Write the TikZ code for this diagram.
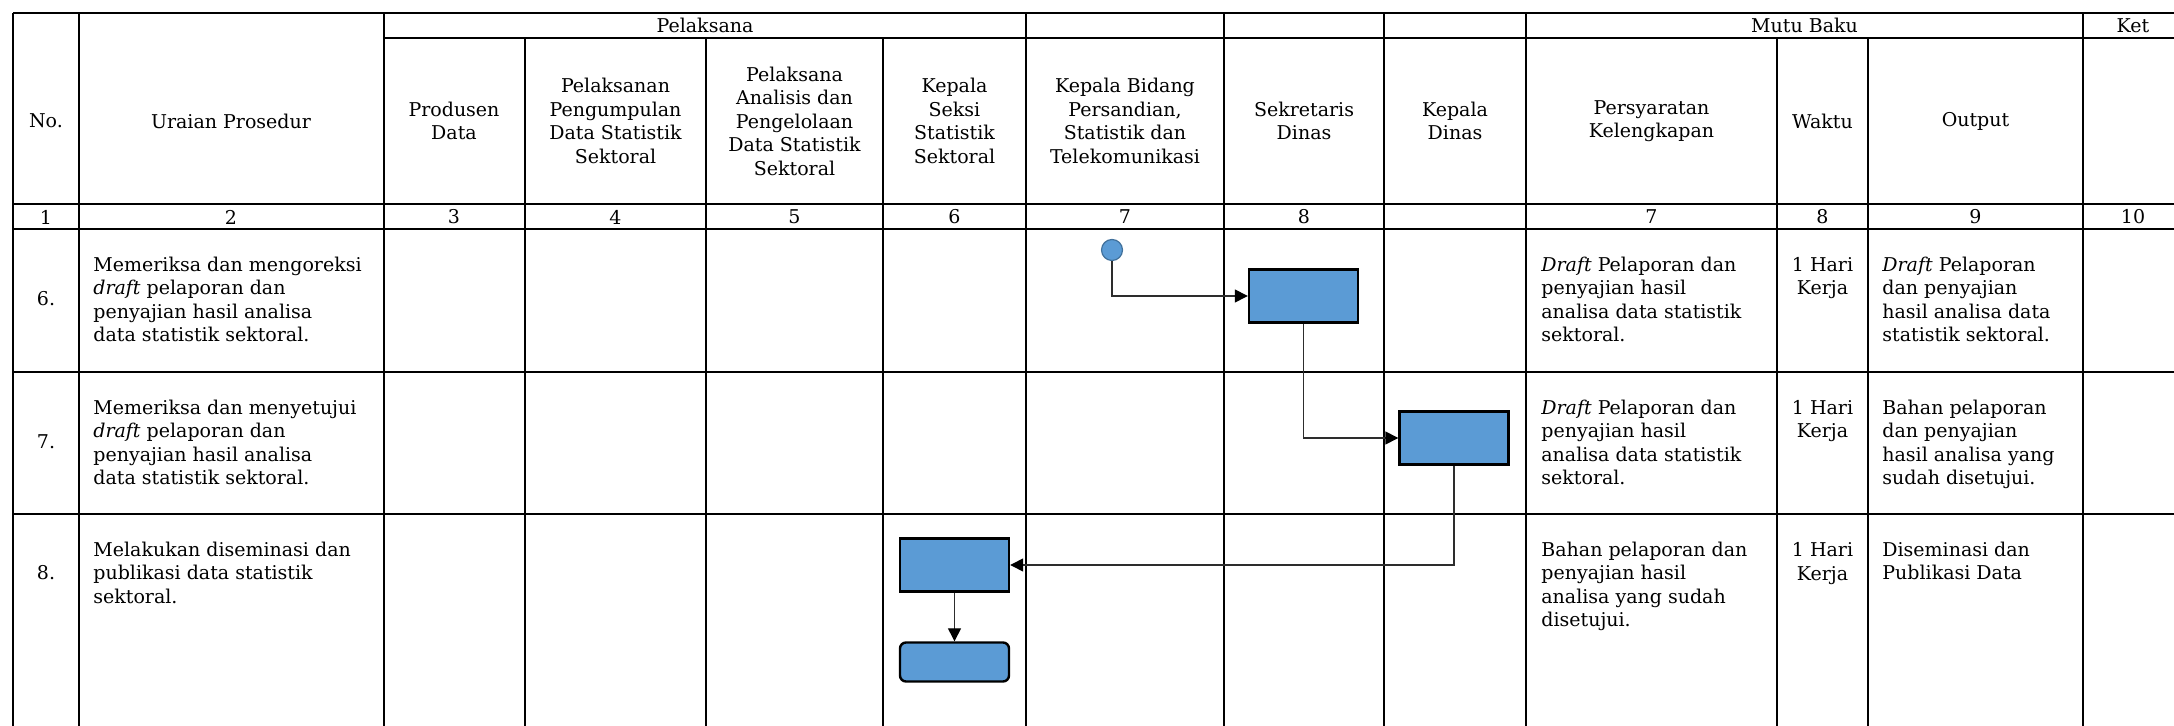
\documentclass[tikz,border=0pt]{standalone}
\usepackage{fontspec}
\setmainfont{DejaVu Serif}
\usetikzlibrary{arrows.meta}
\definecolor{boxblue}{RGB}{91,155,213}
\definecolor{rimblue}{RGB}{65,113,156}
\definecolor{linegrey}{RGB}{45,45,45}

\begin{document}
\begin{tikzpicture}[x=0.5pt,y=-0.5pt,
	grid/.style={line width=0.7pt},
	rule/.style={line width=1.1pt},
	cell/.style={inner sep=0pt,font=\fontsize{9.5}{11.75}\selectfont},
	hd/.style={cell,align=center},
	txt/.style={cell,align=left,anchor=north west},
	wkt/.style={cell,align=center,anchor=north},
	num/.style={cell,anchor=base},
	proc/.style={draw=black,line width=1.2pt,fill=boxblue,minimum width=54.5pt,minimum height=26.5pt,inner sep=0pt},
	startdot/.style={circle,draw=rimblue,line width=0.6pt,fill=boxblue,minimum size=10.5pt,inner sep=0pt},
	flow/.style={draw=linegrey,line width=0.7pt,-{Triangle[length=6.5pt,width=6.5pt,color=black]}}]
	\useasboundingbox (0,0) rectangle (2174,726);
	
	\draw[grid] (13,13) -- (13,726);
	\draw[grid] (79,13) -- (79,726);
	\draw[grid] (384,13) -- (384,726);
	\draw[grid] (525,38) -- (525,726);
	\draw[grid] (706,38) -- (706,726);
	\draw[grid] (883,38) -- (883,726);
	\draw[grid] (1026,13) -- (1026,726);
	\draw[grid] (1224,13) -- (1224,726);
	\draw[grid] (1384,13) -- (1384,726);
	\draw[grid] (1526,13) -- (1526,726);
	\draw[grid] (1777,38) -- (1777,726);
	\draw[grid] (1868,38) -- (1868,726);
	\draw[grid] (2083,13) -- (2083,726);
	
	\draw[rule] (13,13) -- (2174,13);
	\draw[grid] (384,38) -- (2174,38);
	\draw[rule] (13,204) -- (2174,204);
	\draw[rule] (13,229) -- (2174,229);
	\draw[rule] (13,372) -- (2174,372);
	\draw[rule] (13,514) -- (2174,514);
	
	\node[hd] (pelaksana) at (705,25.5) {Pelaksana};
	\node[hd] (mutubaku) at (1804.5,25.5) {Mutu Baku};
	\node[hd] (ket) at (2133,25.5) {Ket};
	
	\node[hd] (hno) at (46,121) {No.};
	\node[hd] (huraian) at (231,121) {Uraian Prosedur};
	\node[hd] (hprodusen) at (454,121) {Produsen\\Data};
	\node[hd] (hkumpul) at (615.5,121) {Pelaksanan\\Pengumpulan\\Data Statistik\\Sektoral};
	\node[hd] (hanalisis) at (794.5,121) {Pelaksana\\Analisis dan\\Pengelolaan\\Data Statistik\\Sektoral};
	\node[hd] (hkasi) at (954.5,121) {Kepala\\Seksi\\Statistik\\Sektoral};
	\node[hd] (hkabid) at (1125,121) {Kepala Bidang\\Persandian,\\Statistik dan\\Telekomunikasi};
	\node[hd] (hsekdin) at (1304,121) {Sekretaris\\Dinas};
	\node[hd] (hkadis) at (1455,121) {Kepala\\Dinas};
	\node[hd] (hsyarat) at (1651.5,121) {Persyaratan\\Kelengkapan};
	\node[hd] (hwaktu) at (1822.5,121) {Waktu};
	\node[hd] (houtput) at (1975.5,121) {Output};
	
	\node[hd] (k1) at (46,217) {1};
	\node[hd] (k2) at (231,217) {2};
	\node[hd] (k3) at (454,217) {3};
	\node[hd] (k4) at (615.5,217) {4};
	\node[hd] (k5) at (794.5,217) {5};
	\node[hd] (k6) at (954.5,217) {6};
	\node[hd] (k7) at (1125,217) {7};
	\node[hd] (k8) at (1304,217) {8};
	\node[hd] (k7b) at (1651.5,217) {7};
	\node[hd] (k8b) at (1822.5,217) {8};
	\node[hd] (k9) at (1975.5,217) {9};
	\node[hd] (k10) at (2133,217) {10};
	
	% baris 6
	\node[num] (no6) at (46,306) {6.};
	\node[txt] (uraian6) at (93,256.5) {Memeriksa dan mengoreksi\\\textit{draft} pelaporan dan\\penyajian hasil analisa\\data statistik sektoral.};
	\node[txt] (syarat6) at (1541,256.5) {\textit{Draft} Pelaporan dan\\penyajian hasil\\analisa data statistik\\sektoral.};
	\node[wkt] (waktu6) at (1822.5,257) {1 Hari\\Kerja};
	\node[txt] (output6) at (1882,256.5) {\textit{Draft} Pelaporan\\dan penyajian\\hasil analisa data\\statistik sektoral.};
	
	% baris 7
	\node[num] (no7) at (46,449) {7.};
	\node[txt] (uraian7) at (93,399.5) {Memeriksa dan menyetujui\\\textit{draft} pelaporan dan\\penyajian hasil analisa\\data statistik sektoral.};
	\node[txt] (syarat7) at (1541,399.5) {\textit{Draft} Pelaporan dan\\penyajian hasil\\analisa data statistik\\sektoral.};
	\node[wkt] (waktu7) at (1822.5,400) {1 Hari\\Kerja};
	\node[txt] (output7) at (1882,399.5) {Bahan pelaporan\\dan penyajian\\hasil analisa yang\\sudah disetujui.};
	
	% baris 8
	\node[num] (no8) at (46,579.5) {8.};
	\node[txt] (uraian8) at (93,541.5) {Melakukan diseminasi dan\\publikasi data statistik\\sektoral.};
	\node[txt] (syarat8) at (1541,541.5) {Bahan pelaporan dan\\penyajian hasil\\analisa yang sudah\\disetujui.};
	\node[wkt] (waktu8) at (1822.5,542) {1 Hari\\Kerja};
	\node[txt] (output8) at (1882,541.5) {Diseminasi dan\\Publikasi Data};
	
	% alur
	\node[startdot] (mulai) at (1112,250) {};
	\node[proc] (sekdin) at (1303.5,296) {};
	\node[proc] (kadis) at (1454,438) {};
	\node[proc] (kasi) at (954.5,565) {};
	\node[proc,minimum height=19.5pt,rounded corners=3pt] (publikasi) at (954.5,662) {};
	
	\draw[flow] (mulai.south) |- (sekdin.west);
	\draw[flow] (sekdin.south) |- (kadis.west);
	\draw[flow] (kadis.south) |- (kasi.east);
	\draw[flow] (kasi.south) -- (publikasi.north);
\end{tikzpicture}
\end{document}
